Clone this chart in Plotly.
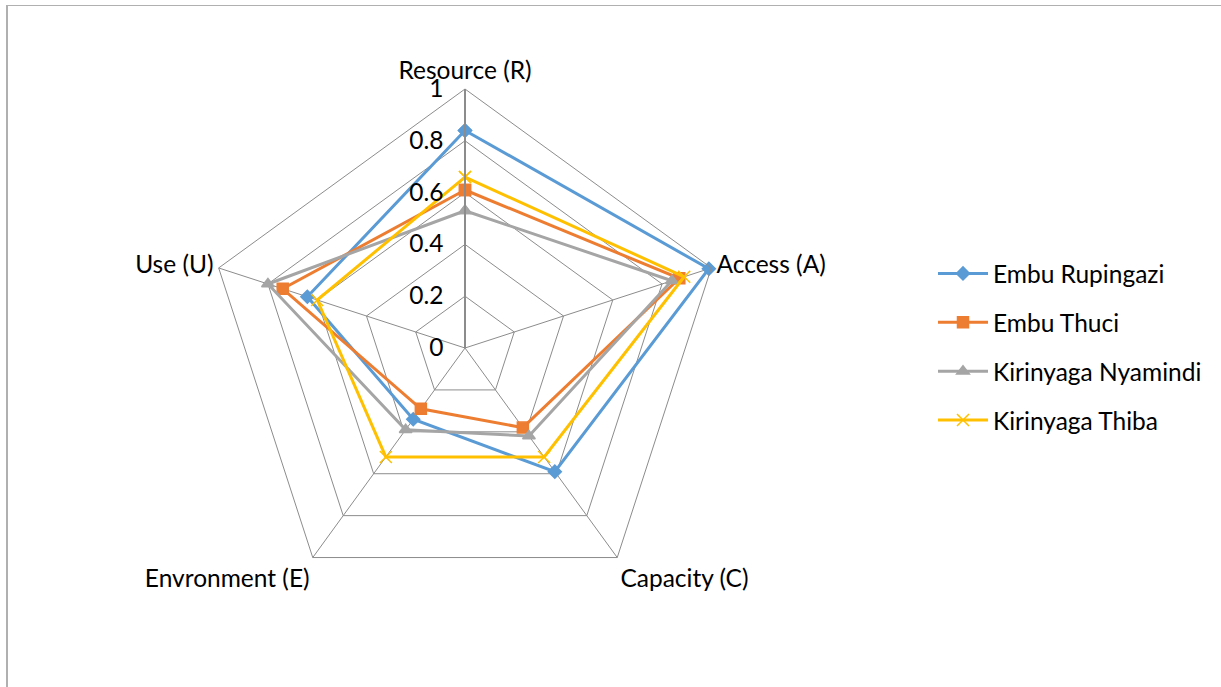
import plotly.graph_objects as go

categories = ["Resource (R)", "Access (A)", "Capacity (C)", "Envronment (E)", "Use (U)"]
series_names = ["Embu Rupingazi", "Embu Thuci", "Kirinyaga Nyamindi", "Kirinyaga Thiba"]
rupingazi = [0.84, 0.99, 0.59, 0.34, 0.64]
thuci = [0.61, 0.87, 0.38, 0.29, 0.74]
nyamindi = [0.53, 0.84, 0.42, 0.39, 0.80]
thiba = [0.66, 0.89, 0.52, 0.52, 0.60]
radial_ticks = [0, 0.2, 0.4, 0.6, 0.8, 1]
radial_ticktext = ["0", "0.2", "0.4", "0.6", "0.8", "1"]

colors = ["#5B9BD5", "#ED7D31", "#A5A5A5", "#FFC000"]
symbols = ["diamond", "square", "triangle-up", "x-thin-open"]
sizes = [10, 11, 11, 12]
values = [rupingazi, thuci, nyamindi, thiba]

FONT = "Lato, 'Open Sans', sans-serif"
FS = 24.5

fig = go.Figure()
for i, (name, vals) in enumerate(zip(series_names, values)):
    fig.add_trace(go.Scatterpolar(
        r=vals + [vals[0]],
        theta=categories + [categories[0]],
        mode="lines+markers",
        name=name,
        legendgroup=name,
        line=dict(color=colors[i], width=3),
        marker=dict(symbol=symbols[i], size=sizes[i], color=colors[i],
                    line=dict(color=colors[i], width=1.5)),
    ))

W, H = 1221, 687
cx, cy, R = 465, 348, 259
fig.update_layout(
    width=W, height=H,
    margin=dict(l=0, r=0, t=0, b=0),
    paper_bgcolor="white",
    plot_bgcolor="white",
    font=dict(family=FONT, size=FS, color="black"),
    showlegend=True,
    legend=dict(x=933 / W, y=1 - 347 / H, xanchor="left", yanchor="middle",
                font=dict(family=FONT, size=FS, color="black"),
                tracegroupgap=14, itemwidth=50, bgcolor="rgba(0,0,0,0)"),
    polar=dict(
        domain=dict(x=[(cx - R) / W, (cx + R) / W], y=[(H - cy - R) / H, (H - cy + R) / H]),
        bgcolor="white",
        gridshape="linear",
        angularaxis=dict(
            rotation=90, direction="clockwise",
            linecolor="#8C8C8C", linewidth=1,
            gridcolor="#8C8C8C", gridwidth=1,
            showline=True, ticks="",
            tickfont=dict(family=FONT, size=FS, color="black"),
        ),
        radialaxis=dict(
            range=[0, 1], angle=90, tickangle=90,
            tickvals=radial_ticks, ticktext=radial_ticktext,
            showline=True, linecolor="#8C8C8C", linewidth=2,
            gridcolor="#8C8C8C", gridwidth=1,
            ticks="outside", ticklen=12, tickcolor="rgba(0,0,0,0)",
            side="counterclockwise",
            tickfont=dict(family=FONT, size=FS, color="black"),
        ),
    ),
    shapes=[
        dict(type="line", xref="paper", yref="paper", x0=6 / W, x1=1, y0=1 - 5.5 / H, y1=1 - 5.5 / H,
             line=dict(color="#B0B0B0", width=1)),
        dict(type="line", xref="paper", yref="paper", x0=7 / W, x1=7 / W, y0=0, y1=1 - 5 / H,
             line=dict(color="#B0B0B0", width=2)),
    ],
)

fig.write_html("out.html")
